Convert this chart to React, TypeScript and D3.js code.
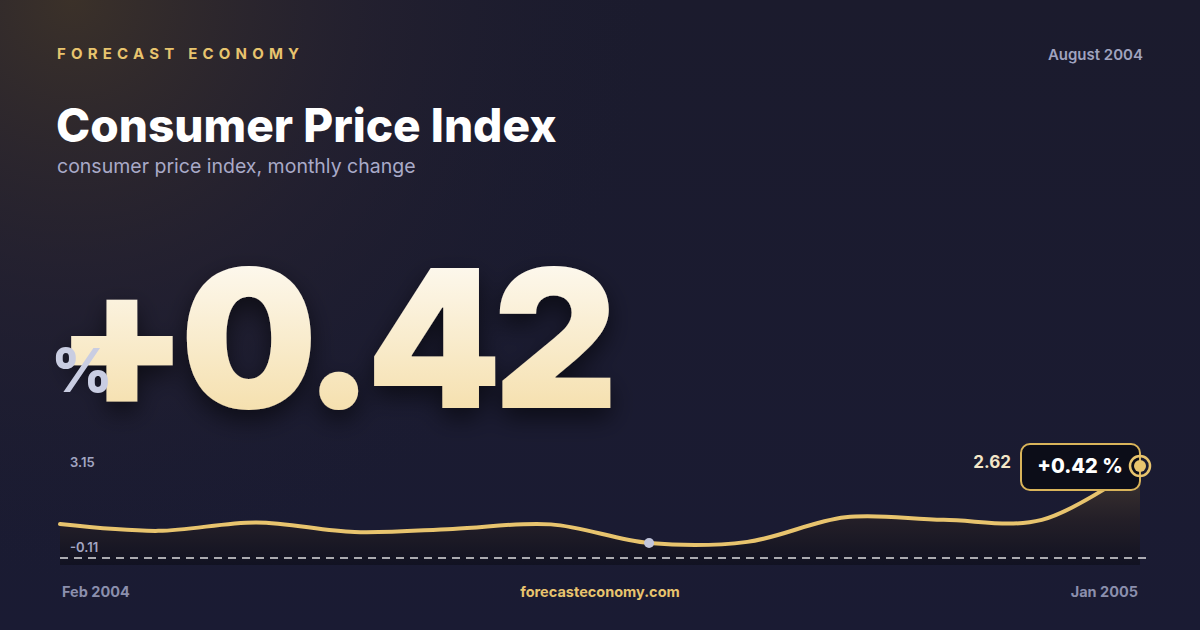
import React from 'react';
import * as d3 from 'd3';

const months = ['Feb 2004', 'Mar 2004', 'Apr 2004', 'May 2004', 'Jun 2004', 'Jul 2004', 'Aug 2004', 'Sep 2004', 'Oct 2004', 'Nov 2004', 'Dec 2004', 'Jan 2005'];
const values = [0.56, 0.32, 0.62, 0.28, 0.39, 0.55, -0.11, -0.07, 0.8, 0.71, 0.71, 2.62];
const yTicks = [3.15, -0.11];
const headline = '+0.42';
const lastChange = '+0.42 %';
const markedIndex = 6;

const W = 1200, H = 630;
const plot = {left: 60, right: 1140, top: 451, bottom: 543, floor: 565, dash: 558};

const App: React.FC = () => {
  const x = d3.scalePoint<string>().domain(months).range([plot.left, plot.right]);
  const y = d3.scaleLinear().domain([yTicks[1], yTicks[0]]).range([plot.bottom, plot.top]);

  const line = d3.line<number>()
    .x((_, i) => x(months[i])!)
    .y(d => y(d))
    .curve(d3.curveCatmullRom.alpha(0.5));
  const area = d3.area<number>()
    .x((_, i) => x(months[i])!)
    .y0(plot.floor)
    .y1(d => y(d))
    .curve(d3.curveCatmullRom.alpha(0.5));

  const lastX = x(months[months.length - 1])!;
  const lastY = y(values[values.length - 1]);
  const font = 'Inter, "Noto Sans", sans-serif';

  return (
    <svg width={W} height={H} style={{position: 'absolute', left: 0, top: 0}} fontFamily={font}>
      <defs>
        <linearGradient id="bg" x1="0" y1="0" x2="0" y2="1">
          <stop offset="0" stopColor="#1b1b2d"/>
          <stop offset="1" stopColor="#1a1b33"/>
        </linearGradient>
        <radialGradient id="glow" cx="0.06" cy="0" r="0.5" gradientTransform="scale(1,1.9)">
          <stop offset="0" stopColor="#3b3129" stopOpacity="1"/>
          <stop offset="0.5" stopColor="#282330" stopOpacity="0.55"/>
          <stop offset="1" stopColor="#1a1b30" stopOpacity="0"/>
        </radialGradient>
        <linearGradient id="num" x1="0" y1="0" x2="0" y2="1">
          <stop offset="0" stopColor="#ffffff"/>
          <stop offset="1" stopColor="#f3d99c"/>
        </linearGradient>
        <linearGradient id="areaFill" x1="0" y1={plot.top} x2="0" y2={plot.floor} gradientUnits="userSpaceOnUse">
          <stop offset="0" stopColor="#4d4136" stopOpacity="0.95"/>
          <stop offset="0.6" stopColor="#241f27" stopOpacity="0.95"/>
          <stop offset="1" stopColor="#111222" stopOpacity="1"/>
        </linearGradient>
        <filter id="shadow" x="-10%" y="-10%" width="130%" height="140%">
          <feDropShadow dx="0" dy="10" stdDeviation="12" floodColor="#000" floodOpacity="0.55"/>
        </filter>
      </defs>

      <rect width={W} height={H} fill="url(#bg)"/>
      <rect width={W} height={H} fill="url(#glow)"/>

      <text x={57} y={59} fill="#e8c46e" fontSize={15} fontWeight={700} letterSpacing={5.2}>FORECAST ECONOMY</text>
      <text x={1143} y={60} fill="#a0a3bf" fontSize={15} fontWeight={600} textAnchor="end">August 2004</text>
      <text x={56} y={142} fill="#ffffff" fontSize={46} fontWeight={800} letterSpacing={0}>Consumer Price Index</text>
      <text x={57} y={173} fill="#a9aac8" fontSize={19.5}>consumer price index, monthly change</text>

      <text x={55} y={408} fill="url(#num)" fontSize={193} fontWeight={900} letterSpacing={-8.5} filter="url(#shadow)">{headline}</text>
      <text x={51} y={392} fill="#c9cde2" fontSize={60} fontWeight={800}>%</text>

      <path d={area(values)!} fill="url(#areaFill)"/>
      <line x1={plot.left} x2={1146} y1={plot.dash} y2={plot.dash} stroke="#ffffff" strokeOpacity={0.85} strokeWidth={1.3} strokeDasharray="8,6"/>
      <path d={line(values)!} fill="none" stroke="#e8c46e" strokeWidth={4} strokeLinecap="round"/>
      <circle cx={x(months[markedIndex])} cy={y(values[markedIndex])} r={5} fill="#c2c6dc"/>

      {yTicks.map((t, i) => (
        <text key={t} x={70} y={i === 0 ? 467 : 552} fill="#a3a6c2" fontSize={13} fontWeight={600}>{t.toFixed(2)}</text>
      ))}

      <rect x={1021} y={444} width={119} height={46} rx={9} fill="#0c0d18" stroke="#d9b45a" strokeWidth={2}/>
      <text x={1080} y={473} fill="#ffffff" fontSize={20} fontWeight={800} textAnchor="middle">{lastChange}</text>
      <text x={1011} y={468} fill="#f3e6c8" fontSize={17} fontWeight={700} textAnchor="end">{values[values.length - 1].toFixed(2)}</text>
      <circle cx={lastX} cy={lastY} r={10} fill="none" stroke="#e8c46e" strokeWidth={2.5}/>
      <circle cx={lastX} cy={lastY} r={6} fill="#e8c46e"/>

      <text x={62} y={597} fill="#8b8fad" fontSize={14.5} fontWeight={700}>{months[0]}</text>
      <text x={600} y={597} fill="#e8c46e" fontSize={14.5} fontWeight={700} textAnchor="middle">forecasteconomy.com</text>
      <text x={1138} y={597} fill="#8b8fad" fontSize={14.5} fontWeight={700} textAnchor="end">{months[months.length - 1]}</text>
    </svg>
  );
};

export default App;
